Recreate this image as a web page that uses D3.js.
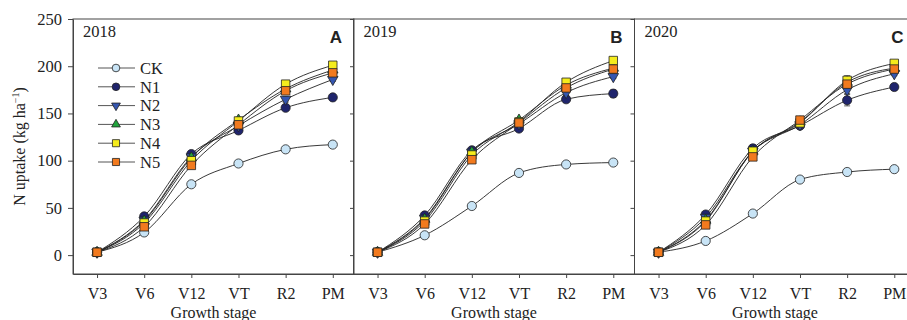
<!DOCTYPE html>
<html>
<head>
<meta charset="utf-8">
<script src="https://cdn.jsdelivr.net/npm/d3@7"></script>
<style>
  body { margin: 0; background: #fff; }
  text { font-family: "Liberation Serif", "Times New Roman", serif; fill: #222; }
</style>
</head>
<body>
<div id="container"></div>
<script>
/* CONSTANTS AND GLOBALS */
const width = 907;
const height = 320;
const plotTop = 19, plotBottom = 274;
const panelLefts = [73, 353.5, 634.5];
const panelWidth = 281;

/* DATA */
const stages = ["V3", "V6", "V12", "VT", "R2", "PM"];
const seriesNames = ["CK", "N1", "N2", "N3", "N4", "N5"];
const years = ["2018", "2019", "2020"];
const panelLetters = ["A", "B", "C"];
const yTicks = [0, 50, 100, 150, 200, 250];

// N uptake (kg/ha), one array per series, per year
const uptake2018 = {
  CK: [3, 24, 75, 97, 112, 117],
  N1: [3, 41, 107, 132, 156, 167],
  N2: [3, 37, 104, 137, 165, 186],
  N3: [3, 36, 103, 143, 176, 196],
  N4: [3, 34, 100, 142, 181, 201],
  N5: [3, 30, 95, 138, 174, 193]
};
const uptake2019 = {
  CK: [3, 21, 52, 87, 96, 98],
  N1: [3, 42, 111, 134, 165, 171],
  N2: [3, 39, 109, 139, 172, 189],
  N3: [3, 38, 109, 143, 180, 198],
  N4: [3, 36, 106, 141, 183, 206],
  N5: [3, 33, 101, 140, 177, 197]
};
const uptake2020 = {
  CK: [3, 15, 44, 80, 88, 91],
  N1: [3, 43, 113, 137, 164, 178],
  N2: [3, 40, 110, 138, 175, 192],
  N3: [3, 37, 110, 141, 183, 198],
  N4: [3, 36, 110, 140, 185, 203],
  N5: [3, 32, 104, 143, 181, 197]
};
// standard errors
const err2018 = {
  CK: [0, 1, 2, 2, 2, 2], N1: [0, 2, 2, 2, 3, 2], N2: [0, 1, 2, 2, 3, 2],
  N3: [0, 1, 2, 2, 2, 2], N4: [0, 1, 2, 2, 2, 2], N5: [0, 1, 2, 2, 2, 2]
};
const err2019 = {
  CK: [0, 1, 2, 2, 2, 2], N1: [0, 2, 2, 2, 3, 4], N2: [0, 1, 2, 2, 3, 2],
  N3: [0, 1, 2, 2, 2, 2], N4: [0, 1, 2, 2, 2, 2], N5: [0, 1, 2, 2, 2, 2]
};
const err2020 = {
  CK: [0, 1, 2, 2, 2, 3], N1: [0, 2, 4, 2, 6, 3], N2: [0, 1, 3, 2, 4, 2],
  N3: [0, 1, 3, 2, 4, 2], N4: [0, 1, 4, 2, 5, 2], N5: [0, 1, 3, 2, 4, 2]
};
const uptakeByYear = [uptake2018, uptake2019, uptake2020];
const errByYear = [err2018, err2019, err2020];

const colors = {
  CK: "#c8e4f6", N1: "#1f246c", N2: "#3556b0",
  N3: "#20a43c", N4: "#f5ec1c", N5: "#f27a1e"
};
const shapes = {
  CK: "circle", N1: "circle", N2: "down", N3: "up", N4: "square", N5: "square"
};

/* SVG ELEMENT */
const svg = d3.select("#container")
  .append("svg")
  .attr("width", width)
  .attr("height", height);

/* SCALES */
const yScale = d3.scaleLinear().domain([-20, 250]).range([plotBottom, plotTop]);

function symbolPath(shape, k) {
  if (shape === "circle") return d3.symbol(d3.symbolCircle, 66 * k)();
  if (shape === "square") return d3.symbol(d3.symbolSquare, 72 * k)();
  return d3.symbol(d3.symbolTriangle, 48 * k)();
}
function drawMarker(g, name, x, y, k = 1) {
  const shape = shapes[name];
  g.append("path")
    .attr("d", symbolPath(shape, k))
    .attr("transform", `translate(${x},${y})` + (shape === "down" ? " rotate(180)" : ""))
    .attr("fill", colors[name])
    .attr("stroke", "#222")
    .attr("stroke-width", 0.8);
}

/* PANELS */
panelLefts.forEach((left, p) => {
  const right = left + panelWidth;
  const xScale = d3.scaleLinear().domain([-0.51, 5.45]).range([left, right]);
  const data = uptakeByYear[p];
  const errs = errByYear[p];
  const g = svg.append("g");

  // frame
  g.append("rect")
    .attr("x", left).attr("y", plotTop)
    .attr("width", panelWidth).attr("height", plotBottom - plotTop)
    .attr("fill", "none").attr("stroke", "#444").attr("stroke-width", 1);

  // x axis
  const xAxis = d3.axisBottom(xScale)
    .tickValues(d3.range(stages.length))
    .tickFormat(i => stages[i])
    .tickSize(4).tickPadding(10).tickSizeOuter(0);
  g.append("g")
    .attr("transform", `translate(0,${plotBottom})`)
    .call(xAxis)
    .call(a => a.select(".domain").attr("stroke", "#444"))
    .call(a => a.selectAll(".tick line").attr("stroke", "#444"))
    .call(a => a.selectAll("text").attr("font-size", 16)
      .attr("font-family", "Liberation Serif, serif").attr("fill", "#222"));

  // right axis: inward ticks
  g.append("g")
    .attr("transform", `translate(${right},0)`)
    .call(d3.axisLeft(yScale).tickValues(yTicks).tickSize(4).tickFormat("").tickSizeOuter(0))
    .call(a => a.select(".domain").remove())
    .call(a => a.selectAll(".tick line").attr("stroke", "#444"));

  if (p === 0) {
    g.append("g")
      .attr("transform", `translate(${left},0)`)
      .call(d3.axisLeft(yScale).tickValues(yTicks).tickSize(5).tickPadding(6).tickSizeOuter(0))
      .call(a => a.select(".domain").attr("stroke", "#444"))
      .call(a => a.selectAll(".tick line").attr("stroke", "#444"))
      .call(a => a.selectAll("text").attr("font-size", 16.5)
        .attr("font-family", "Liberation Serif, serif").attr("fill", "#222"));
  }

  // x title (cut by the lower edge, as in the source figure)
  g.append("text")
    .attr("x", left + panelWidth / 2)
    .attr("y", 318)
    .attr("text-anchor", "middle")
    .attr("font-size", 16)
    .text("Growth stage");

  // year label and panel letter
  g.append("text")
    .attr("x", left + 10).attr("y", 37)
    .attr("font-size", 16.5)
    .text(years[p]);
  g.append("text")
    .attr("x", right - 12).attr("y", 43)
    .attr("text-anchor", "end")
    .attr("font-size", 17)
    .attr("font-weight", "bold")
    .style("font-family", "Liberation Sans, Arial, sans-serif")
    .text(panelLetters[p]);

  // lines
  const line = d3.line()
    .x((d, i) => xScale(i))
    .y(d => yScale(d))
    .curve(d3.curveMonotoneX);
  seriesNames.forEach(name => {
    g.append("path")
      .attr("d", line(data[name]))
      .attr("fill", "none")
      .attr("stroke", "#222")
      .attr("stroke-width", 0.9);
  });

  // error bars
  seriesNames.forEach(name => {
    data[name].forEach((v, i) => {
      const e = errs[name][i];
      if (!e) return;
      const x = xScale(i);
      g.append("path")
        .attr("d", `M${x},${yScale(v - e)}V${yScale(v + e)}M${x - 3},${yScale(v - e)}H${x + 3}M${x - 3},${yScale(v + e)}H${x + 3}`)
        .attr("stroke", "#333").attr("stroke-width", 0.8).attr("fill", "none");
    });
  });

  // markers
  seriesNames.forEach(name => {
    data[name].forEach((v, i) => drawMarker(g, name, xScale(i), yScale(v)));
  });
});

/* LEGEND */
const legend = svg.append("g");
seriesNames.forEach((name, i) => {
  const y = 68 + i * 18.8;
  legend.append("line")
    .attr("x1", 98).attr("x2", 135).attr("y1", y).attr("y2", y)
    .attr("stroke", "#555").attr("stroke-width", 1);
  drawMarker(legend, name, 116, y, 0.7);
  legend.append("text")
    .attr("x", 140).attr("y", y).attr("dy", "0.35em")
    .attr("font-size", 16.5)
    .text(name);
});

/* Y AXIS LABEL */
const yLabel = svg.append("text")
  .attr("transform", `translate(25,${(plotTop + plotBottom) / 2}) rotate(-90)`)
  .attr("text-anchor", "middle")
  .attr("font-size", 16);
yLabel.append("tspan").text("N uptake (kg ha");
yLabel.append("tspan").attr("dy", -6).attr("font-size", 10).text("−1");
yLabel.append("tspan").attr("dy", 6).text(")");
</script>
</body>
</html>
